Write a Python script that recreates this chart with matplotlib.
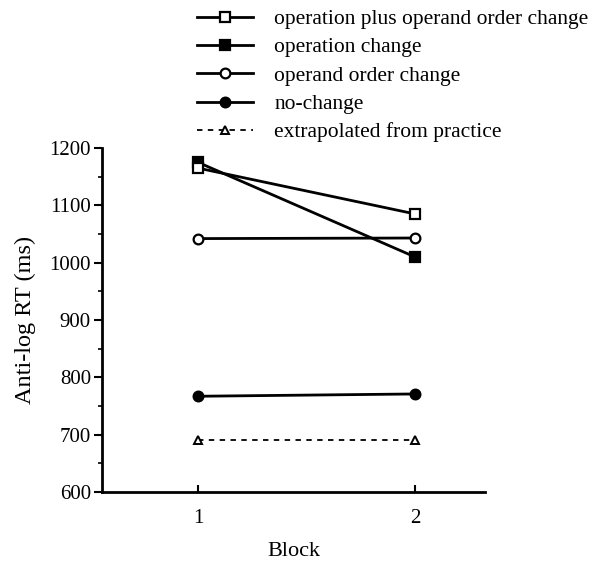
import numpy as np
import matplotlib
matplotlib.use("Agg")
import matplotlib.pyplot as plt

blocks = [1, 2]
series_labels = [
    "operation plus operand order change",
    "operation change",
    "operand order change",
    "no-change",
    "extrapolated from practice",
]
op_plus_operand = [1165, 1085]
op_change = [1175, 1010]
operand_order = [1042, 1043]
no_change = [767, 771]
extrapolated = [690, 690]
y_ticks = [600, 700, 800, 900, 1000, 1100, 1200]

plt.rcParams['font.family'] = ['Liberation Serif', 'DejaVu Serif']

fig = plt.figure(figsize=(5.92, 5.61), dpi=100)
ax = fig.add_axes([102/592, 1-492/561, 383/592, 344/561])

lw = 2.0
common = dict(color='black', lw=lw, markersize=7, markeredgewidth=1.6, clip_on=False)
h1, = ax.plot(blocks, op_plus_operand, marker='s', markerfacecolor='white', zorder=4, **common)
h2, = ax.plot(blocks, op_change, marker='s', markerfacecolor='black', zorder=3, **common)
h3, = ax.plot(blocks, operand_order, marker='o', markerfacecolor='white', **common)
h4, = ax.plot(blocks, no_change, marker='o', markerfacecolor='black', **common)
h5, = ax.plot(blocks, extrapolated, marker='^', markerfacecolor='white', linestyle=(0, (3, 3)),
              color='black', lw=1.3, markersize=6, markeredgewidth=1.4, clip_on=False)

ax.set_xlim(1 - 96/217, 2 + 70/217)
ax.set_ylim(600, 1200)
ax.set_xticks(blocks)
ax.set_xticklabels(['1', '2'])
ax.set_yticks(y_ticks)
ax.set_yticks(np.arange(650, 1200, 100), minor=True)
ax.spines['top'].set_visible(False)
ax.spines['right'].set_visible(False)
ax.spines['left'].set_linewidth(2)
ax.spines['bottom'].set_linewidth(2)
ax.tick_params(axis='y', which='major', direction='out', length=6, width=1.5, labelsize=15, pad=2)
ax.tick_params(axis='y', which='minor', direction='out', length=3, width=1.2)
ax.tick_params(axis='x', which='major', direction='in', length=5, width=1.5, labelsize=15, pad=12)
ax.set_ylabel('Anti-log RT (ms)', fontsize=17.5, labelpad=10)
ax.set_xlabel('Block', fontsize=16, labelpad=10)

handles = [h1, h2, h3, h4, h5]
leg = fig.legend(handles, series_labels, loc='upper left', bbox_to_anchor=(197/592, 1 - 9/561),
                 frameon=False, fontsize=15.5, handlelength=2.6, handletextpad=1.0,
                 labelspacing=0.385, borderaxespad=0, borderpad=0, numpoints=1)

fig.savefig('out.png', dpi=100)
